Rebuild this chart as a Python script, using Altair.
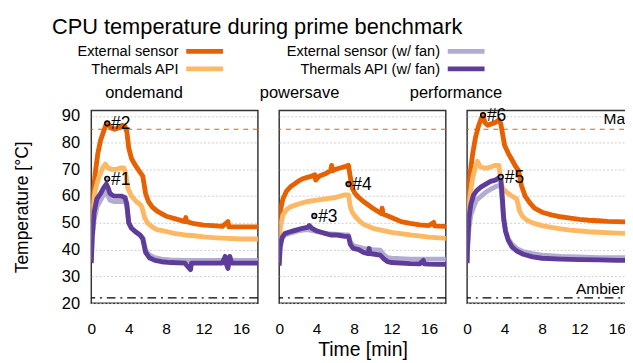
import altair as alt
import pandas as pd

FONT = "Liberation Sans"

panels = ["ondemand", "powersave", "performance"]
series_names = ["External sensor", "Thermals API", "External sensor (w/ fan)", "Thermals API (w/ fan)"]
series_colors = ["#e66101", "#fdb863", "#b2abd2", "#5e3c99"]

# ---- ondemand ----
od_ext_t = [0, 0.15, 0.4, 0.7, 1.0, 1.3, 1.6, 1.8, 2.1, 2.5, 2.9, 3.3, 3.6, 3.8, 4.0, 4.3, 4.8, 5.2, 5.5, 5.8, 6.1, 6.5, 7.0, 7.5, 8, 9, 10, 10.1, 10.2, 11, 12, 13, 14, 14.6, 14.7, 14.8, 16, 17, 18]
od_ext_v = [46, 58, 68, 76, 81, 84, 87, 87, 85.5, 85, 85.5, 86.5, 86, 84, 78, 74, 71, 69, 67.5, 61, 58, 56, 54.5, 53.5, 52.5, 51.5, 50.5, 52, 50.5, 49.7, 49.2, 49, 48.7, 50.5, 48.5, 48.6, 48.5, 48.5, 48.5]
od_api_t = [0, 0.15, 0.4, 0.8, 1.2, 1.5, 1.8, 2.2, 2.7, 3.1, 3.5, 3.7, 3.9, 4.3, 4.8, 5.2, 5.4, 5.7, 6.0, 6.5, 7, 8, 9, 10, 11, 12, 13, 14, 16, 18]
od_api_v = [44, 55, 62, 67, 70.5, 72, 70.5, 70, 70, 70.5, 70.5, 68, 63, 60, 58, 57, 56, 52, 50, 48.5, 47.5, 46.8, 46, 45.5, 45.2, 44.8, 44.5, 44.3, 44, 44]
od_extfan_t = [0, 0.1, 0.3, 0.6, 1.0, 1.3, 1.6, 1.8, 2.0, 2.4, 2.8, 3.2, 3.6, 3.8, 4.0, 4.3, 4.8, 5.2, 5.5, 5.8, 6.2, 6.8, 7.5, 8.5, 10, 12, 14, 16, 18]
od_extfan_v = [36, 44, 51, 56, 58.5, 60.5, 61.5, 60, 58.5, 58, 58, 58, 58, 56, 50, 48, 46.5, 45.5, 44.5, 40, 38, 37, 36.5, 36.2, 36, 36, 36, 36, 36]
od_apifan_t = [0, 0.1, 0.3, 0.6, 1.0, 1.3, 1.6, 1.8, 2.0, 2.4, 2.8, 3.2, 3.6, 3.8, 4.0, 4.3, 4.8, 5.2, 5.5, 5.8, 6.2, 6.8, 7.5, 8.5, 10, 10.6, 10.7, 10.8, 12, 14, 14.3, 14.4, 14.6, 14.8, 15.0, 16, 18]
od_apifan_v = [35, 45, 54, 59, 61, 63, 64.5, 63, 61, 60, 60, 60, 59.5, 57, 50, 48, 46.5, 45.5, 44, 39, 37, 36, 35.5, 35.2, 35, 32.5, 35, 35, 35, 35, 37.5, 35, 33, 37.5, 35, 35, 35]

# ---- powersave ----
ps_ext_t = [0, 0.15, 0.4, 0.8, 1.2, 1.6, 2.0, 2.5, 3.0, 3.5, 3.8, 3.9, 4.0, 4.3, 5.0, 5.5, 5.6, 5.7, 6.0, 6.5, 7.0, 7.4, 7.6, 7.8, 8.1, 8.5, 9, 10, 10.9, 11.0, 11.1, 12, 13, 14, 15, 16, 16.5, 16.6, 17, 18]
ps_ext_v = [50, 55, 59, 62, 63.5, 64.5, 65.5, 66.5, 67, 67.5, 68, 66, 66.5, 67.5, 68.5, 69.5, 71.5, 69.5, 70, 70.5, 71, 71.5, 67, 63, 61, 59.5, 58, 55.5, 53.5, 55.5, 53.3, 52, 50.5, 49.8, 49.3, 49, 50.2, 48.9, 48.8, 48.7]
ps_api_t = [0, 0.15, 0.4, 0.8, 1.2, 2, 3, 4, 5, 6, 7, 7.4, 7.6, 7.8, 8.1, 8.5, 9, 10, 11, 12, 13, 14, 16, 18]
ps_api_v = [44, 49, 53, 55, 56, 57, 58, 58.5, 59, 59.5, 60.5, 60.5, 56, 54, 52.5, 51, 49.5, 48, 47.2, 46.5, 46, 45.5, 44.7, 44.2]
ps_extfan_t = [0, 0.1, 0.3, 0.6, 1.0, 2, 3, 4, 5, 6, 7, 7.4, 7.6, 7.9, 8.5, 9, 10, 10.8, 11.2, 11.6, 12, 14, 16, 18]
ps_extfan_v = [35, 41, 44, 45.5, 46, 47, 47.5, 46.8, 46, 45.8, 45.5, 45.5, 43, 41.5, 41, 40.5, 40, 39.8, 38, 37, 36.8, 36.5, 36.5, 36.5]
ps_apifan_t = [0, 0.1, 0.3, 0.6, 1.0, 1.5, 2.0, 2.5, 3.0, 3.2, 3.5, 4.0, 4.5, 5.0, 5.5, 6.0, 6.5, 7.0, 7.4, 7.6, 7.9, 8.5, 9.0, 9.5, 9.6, 9.7, 10.2, 10.8, 11.2, 11.6, 12, 13, 14, 15, 15.4, 15.5, 16, 17, 18]
ps_apifan_v = [34, 41, 44.5, 46, 46.5, 47, 47.5, 48, 48.3, 49, 48, 47, 46.5, 46, 45.5, 45.5, 45.3, 45, 45, 42, 40.5, 40, 39, 38.5, 40.5, 38.5, 38.3, 38, 36.5, 35.5, 35.2, 35, 34.8, 34.7, 36, 34.7, 34.6, 34.5, 34.5]

# ---- performance ----
pf_ext_t = [0, 0.1, 0.3, 0.6, 0.9, 1.2, 1.5, 1.7, 1.9, 2.2, 2.6, 3.0, 3.4, 3.6, 3.8, 4.0, 4.4, 4.8, 5.2, 5.5, 5.8, 6.2, 6.7, 7.2, 8, 9, 10, 11, 12, 13, 14, 15, 16, 17, 18]
pf_ext_v = [48, 58, 68, 76, 82, 86, 89, 90, 87.5, 86.5, 87, 87.5, 88.5, 87, 83, 79, 76, 73.5, 71, 69.5, 64, 60, 57.5, 55.5, 54, 53, 52.3, 51.8, 51.3, 51, 50.8, 50.6, 50.5, 50.4, 50.4]
pf_api_t = [0, 0.1, 0.3, 0.6, 0.9, 1.1, 1.4, 1.8, 2.2, 2.6, 3.0, 3.4, 3.6, 3.8, 4.2, 4.8, 5.3, 5.6, 5.9, 6.4, 7, 8, 9, 10, 11, 12, 13, 14, 16, 18]
pf_api_v = [44, 52, 60, 67, 71, 73, 71, 70.5, 70.5, 71, 71.5, 71.5, 65, 63, 61.5, 60, 59, 54.5, 52.5, 51, 50, 49, 48.3, 47.8, 47.3, 47, 46.7, 46.5, 46.2, 46]
pf_extfan_t = [0, 0.05, 0.2, 0.4, 0.7, 1.0, 1.5, 2.0, 2.5, 3.0, 3.4, 3.6, 3.75, 3.9, 4.1, 4.4, 4.8, 5.3, 6, 7, 8, 10, 12, 14, 16, 18]
pf_extfan_v = [35, 40, 48, 53, 56, 58.5, 60, 61.5, 62.5, 63.5, 64, 64, 58, 51, 47, 44, 42, 40.5, 39.3, 38.5, 38, 37.5, 37.3, 37, 37, 37]
pf_apifan_t = [0, 0.05, 0.2, 0.4, 0.7, 1.0, 1.5, 2.0, 2.5, 3.0, 3.4, 3.6, 3.75, 3.9, 4.1, 4.4, 4.8, 5.3, 6, 7, 8, 10, 12, 14, 16, 18]
pf_apifan_v = [35, 42, 52, 57, 60.5, 62, 63.5, 64.5, 65.5, 66, 66.8, 66.5, 60, 52, 47, 43.5, 41, 39.5, 38.3, 37.3, 36.8, 36.5, 36.3, 36.2, 36, 36]

# reference lines
ref_names = ["Max", "Ambient"]
ref_values = [85, 22]
ref_label_y = [88.8, 25.4]

# annotated points
ann_panel = ["ondemand", "ondemand", "powersave", "powersave", "performance", "performance"]
ann_label = ["#1", "#2", "#3", "#4", "#5", "#6"]
ann_t = [1.7, 1.7, 3.75, 7.4, 3.6, 1.7]
ann_v = [66.5, 87.2, 52.6, 64.5, 67.2, 90.3]
ann_fill = ["#b2abd2", "#e66101", "#b2abd2", "#e66101", "#b2abd2", "#e66101"]

raw = {
    "ondemand": [(od_ext_t, od_ext_v), (od_api_t, od_api_v), (od_extfan_t, od_extfan_v), (od_apifan_t, od_apifan_v)],
    "powersave": [(ps_ext_t, ps_ext_v), (ps_api_t, ps_api_v), (ps_extfan_t, ps_extfan_v), (ps_apifan_t, ps_apifan_v)],
    "performance": [(pf_ext_t, pf_ext_v), (pf_api_t, pf_api_v), (pf_extfan_t, pf_extfan_v), (pf_apifan_t, pf_apifan_v)],
}

rows = []
for p, lst in raw.items():
    for s, (ts, vs) in zip(series_names, lst):
        for t, v in zip(ts, vs):
            rows.append({"panel": p, "series": s, "t": t, "v": v})
df = pd.DataFrame(rows)
ann_df = pd.DataFrame({"panel": ann_panel, "label": ann_label, "t": ann_t, "v": ann_v, "fill": ann_fill})
ref_df = pd.DataFrame({"name": ref_names, "v": ref_values, "ly": ref_label_y})
head_df = pd.DataFrame({"panel": panels})

T_MAX = 17.8
W, H = 172, 199
xscale = alt.Scale(domain=[0, T_MAX], nice=False, zero=False)
yscale = alt.Scale(domain=[20, 92], nice=False, zero=False)
# panel heading centres, relative to each panel's left edge
head_x = {"ondemand": 54.5, "powersave": 21, "performance": -11.5}


def make_legend():
    leg_df = pd.DataFrame({
        "label": series_names,
        "col": [0, 0, 1, 1],
        "row": [0, 1, 0, 1],
        "color": series_colors,
    })
    # positions relative to the first panel's plot area
    lx = alt.Scale(domain=[0, 1], range=[90, 360])
    ly = alt.Scale(domain=[0, 1], range=[-61, -43])
    base = alt.Chart(leg_df)
    text = base.mark_text(align="right", baseline="middle", fontSize=15, font=FONT, color="#000").encode(
        x=alt.X("col:Q", scale=lx, axis=None), y=alt.Y("row:Q", scale=ly, axis=None), text="label:N")
    sym = base.mark_rule(strokeWidth=5, xOffset=8, x2Offset=46).encode(
        x=alt.X("col:Q", scale=lx, axis=None), x2="col:Q",
        y=alt.Y("row:Q", scale=ly, axis=None), color=alt.Color("color:N", scale=None))
    return alt.layer(sym, text)


def make_panel(p):
    first = p == "ondemand"
    mid = p == "powersave"
    last = p == "performance"
    xaxis = alt.Axis(values=[0, 4, 8, 12, 16], ticks=False, domain=False, grid=False,
                     labelFontSize=16, labelPadding=18, labelFont=FONT, labelFlush=False,
                     labelOverlap=False,
                     title="Time [min]" if mid else None, titleFontSize=20,
                     titleFontWeight="normal", titlePadding=4, titleFont=FONT,
                     labelColor="#000", titleColor="#000")
    common = dict(values=[20, 30, 40, 50, 60, 70, 80, 90], ticks=False, domain=False,
                  grid=True, gridColor="#cccccc", gridDash=[2, 2], gridWidth=1, labelOverlap=False)
    if first:
        yaxis = alt.Axis(labelFontSize=17, labelPadding=12, labelFont=FONT,
                         labelFlush=False,
                         title="Temperature [°C]", titleFontSize=18, titleFontWeight="normal",
                         titlePadding=31, titleFont=FONT, labelColor="#000", titleColor="#000",
                         **common)
    else:
        yaxis = alt.Axis(labels=False, title=None, **common)

    X = lambda f: alt.X(f, scale=xscale, axis=xaxis)
    Y = lambda f: alt.Y(f, scale=yscale, axis=yaxis)

    layers = []
    pdf = df[df.panel == p]
    for s, c in zip(series_names, series_colors):
        layers.append(alt.Chart(pdf[pdf.series == s]).mark_line(
            color=c, strokeWidth=5, strokeJoin="round", clip=True).encode(x=X("t:Q"), y=Y("v:Q")))

    refs = alt.Chart(ref_df)
    layers.append(refs.transform_filter(alt.datum.name == "Max").mark_rule(
        color="#e66101", strokeWidth=1.2, strokeDash=[5, 5]).encode(y=Y("v:Q")))
    layers.append(refs.transform_filter(alt.datum.name == "Ambient").mark_rule(
        color="#000", strokeWidth=1.3, strokeDash=[9, 5, 2, 5]).encode(y=Y("v:Q")))

    adf = ann_df[ann_df.panel == p]
    layers.append(alt.Chart(adf).mark_point(shape="circle", filled=True, size=24,
                                            stroke="#000", strokeWidth=1.5, opacity=1).encode(
        x=X("t:Q"), y=Y("v:Q"), fill=alt.Fill("fill:N", scale=None)))
    layers.append(alt.Chart(adf).mark_text(align="left", baseline="middle", dx=4, dy=1,
                                           fontSize=18, font=FONT, color="#000").encode(
        x=X("t:Q"), y=Y("v:Q"), text="label:N"))

    if last:
        layers.append(alt.Chart(ref_df).mark_text(align="right", baseline="middle", dx=-1,
                                                  fontSize=16, font=FONT, color="#000").encode(
            x=alt.datum(T_MAX), y=Y("ly:Q"), text="name:N"))

    # panel heading
    layers.append(alt.Chart(head_df[head_df.panel == p]).mark_text(
        align="center", baseline="alphabetic", fontSize=17, font=FONT, color="#000").encode(
        x=alt.value(head_x[p]), y=alt.value(-13), text="panel:N"))

    body = alt.layer(*layers)
    if first:
        body = alt.layer(body, make_legend()).resolve_scale(x="independent", y="independent")

    return body.properties(width=W, height=H)


chart = alt.hconcat(*[make_panel(p) for p in panels], spacing=22, bounds="flush").properties(
    title=alt.TitleParams("CPU temperature during prime benchmark", fontSize=22.5, fontWeight="normal",
                          font=FONT, anchor="start", dx=40, baseline="alphabetic", offset=-12, color="#000"),
    padding={"left": 5, "top": 2, "right": -11, "bottom": 0},
).configure_view(
    stroke="#333", strokeWidth=1.5
).configure_axis(labelOverlap=False)

chart.save("out.html", embed_options={"renderer": "svg", "actions": False})
